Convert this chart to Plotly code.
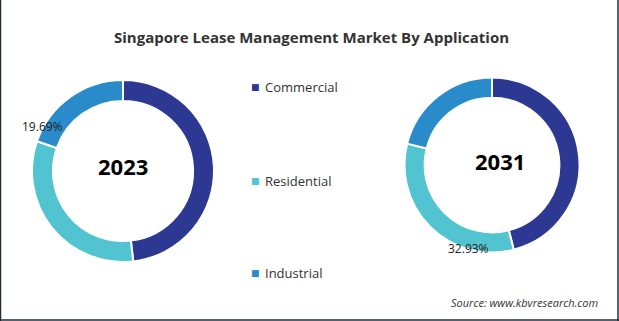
import plotly.graph_objects as go

categories = ["Commercial", "Residential", "Industrial"]
values_2023 = [48.21, 32.10, 19.69]
values_2031 = [46.00, 32.93, 21.07]
years = ["2023", "2031"]
colors = ["#2c3892", "#52c4d1", "#2a8bca"]

W, H = 619, 321

def px(x):
    return x / W

def py(y):
    return 1 - y / H

fig = go.Figure()

fig.add_trace(go.Pie(
    labels=categories, values=values_2023, hole=0.77, sort=False,
    direction="clockwise", rotation=0, textinfo="none", hoverinfo="label+percent",
    marker=dict(colors=colors, line=dict(color="white", width=2)),
    domain=dict(x=[px(32), px(214)], y=[py(262), py(80)]),
    showlegend=False,
))
fig.add_trace(go.Pie(
    labels=categories, values=values_2031, hole=0.77, sort=False,
    direction="clockwise", rotation=0, textinfo="none", hoverinfo="label+percent",
    marker=dict(colors=colors, line=dict(color="white", width=2)),
    domain=dict(x=[px(404.5), px(579.5)], y=[py(252.5), py(77.5)]),
    showlegend=False,
))

annotations = []
# Title
annotations.append(dict(
    x=px(311), y=py(37), xref="paper", yref="paper",
    text="<b>Singapore Lease Management Market By Application</b>",
    showarrow=False, font=dict(family="Open Sans", size=15, color="#333333"),
    xanchor="center", yanchor="middle"))
# Center years
annotations.append(dict(x=px(123), y=py(166), xref="paper", yref="paper",
                        text="<b>" + years[0] + "</b>", showarrow=False,
                        font=dict(family="Open Sans", size=22, color="#000000"),
                        xanchor="center", yanchor="middle"))
annotations.append(dict(x=px(500), y=py(161), xref="paper", yref="paper",
                        text="<b>" + years[1] + "</b>", showarrow=False,
                        font=dict(family="Open Sans", size=22, color="#000000"),
                        xanchor="center", yanchor="middle"))
# Value labels
annotations.append(dict(x=px(42), y=py(127), xref="paper", yref="paper",
                        text=f"{values_2023[2]:.2f}%", showarrow=False,
                        font=dict(family="Open Sans", size=12, color="#222222"),
                        xanchor="center", yanchor="middle"))
annotations.append(dict(x=px(468), y=py(248), xref="paper", yref="paper",
                        text=f"{values_2031[1]:.2f}%", showarrow=False,
                        font=dict(family="Open Sans", size=12, color="#222222"),
                        xanchor="center", yanchor="middle"))
# Legend
leg_y = [87.5, 181, 273]
for cat, col, yy in zip(categories, colors, leg_y):
    annotations.append(dict(x=px(255), y=py(yy), xref="paper", yref="paper",
                            text="■", showarrow=False,
                            font=dict(family="DejaVu Sans", size=9, color=col),
                            xanchor="center", yanchor="middle"))
    annotations.append(dict(x=px(263), y=py(yy), xref="paper", yref="paper",
                            text=cat, showarrow=False,
                            font=dict(family="Open Sans", size=13, color="#333333"),
                            xanchor="left", yanchor="middle"))
# Source
annotations.append(dict(x=px(600), y=py(302), xref="paper", yref="paper",
                        text="<i>Source: www.kbvresearch.com</i>", showarrow=False,
                        font=dict(family="Open Sans", size=11, color="#333333"),
                        xanchor="right", yanchor="middle"))

shapes = [
    dict(type="line", xref="paper", yref="paper", x0=px(0.5), x1=px(0.5), y0=0, y1=1,
         line=dict(color="#1f2b3a", width=1.5)),
    dict(type="line", xref="paper", yref="paper", x0=px(618), x1=px(618), y0=0, y1=1,
         line=dict(color="#1f2b3a", width=1.5)),
    dict(type="line", xref="paper", yref="paper", x0=0, x1=1, y0=py(320), y1=py(320),
         line=dict(color="#1f2b3a", width=1.5)),
]

fig.update_layout(
    width=W, height=H,
    margin=dict(l=0, r=0, t=0, b=0),
    paper_bgcolor="white", plot_bgcolor="white",
    annotations=annotations, shapes=shapes,
)

fig.write_html("out.html")
